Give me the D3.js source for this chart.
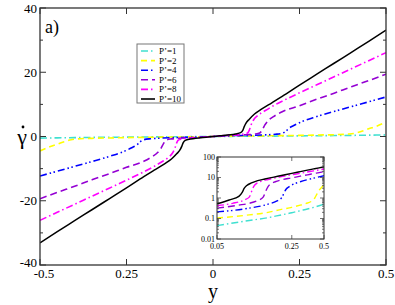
<!DOCTYPE html>
<html><head><meta charset="utf-8">
<script src="https://cdn.jsdelivr.net/npm/d3@7"></script>
<style>body{margin:0;background:#fff}svg{display:block}text{font-family:"Liberation Serif","DejaVu Serif",serif;fill:#000}</style>
</head><body><svg id="c" width="395" height="305"></svg>
<script>
// Positive half of each curve [y, gamma-dot]; the curves are antisymmetric in y.
const P1  = [[0,0],[0.05,0.045],[0.1,0.08],[0.15,0.11],[0.2,0.15],[0.25,0.19],[0.3,0.24],[0.35,0.29],[0.4,0.35],[0.45,0.42],[0.5,0.5]];
const P2  = [[0,0],[0.05,0.105],[0.1,0.15],[0.15,0.2],[0.2,0.28],[0.25,0.35],[0.3,0.45],[0.35,0.57],[0.39,0.75],[0.41,1.0],[0.43,1.6],[0.45,2.4],[0.47,3.1],[0.5,4.5]];
const P4  = [[0,0],[0.05,0.21],[0.1,0.32],[0.15,0.5],[0.18,0.7],[0.2,1.0],[0.21,1.6],[0.22,2.6],[0.235,3.5],[0.25,4.3],[0.3,6.2],[0.35,7.8],[0.4,9.3],[0.45,10.8],[0.5,12.3]];
const P6  = [[0,0],[0.05,0.32],[0.08,0.45],[0.1,0.55],[0.12,0.75],[0.135,1.1],[0.143,2.2],[0.15,3.6],[0.16,5.0],[0.175,6.2],[0.2,7.7],[0.25,9.6],[0.3,11.6],[0.35,13.5],[0.4,15.5],[0.45,17.4],[0.5,19.4]];
const P8  = [[0,0],[0.05,0.42],[0.07,0.55],[0.09,0.8],[0.1,1.1],[0.105,2.0],[0.11,3.6],[0.118,5.3],[0.13,6.6],[0.15,8.0],[0.17,9.3],[0.2,11.0],[0.25,13.6],[0.3,16.1],[0.35,18.6],[0.4,21.1],[0.45,23.6],[0.5,26.1]];
const P10 = [[0,0],[0.02,0.2],[0.05,0.52],[0.065,0.8],[0.08,1.2],[0.086,1.9],[0.09,3.0],[0.095,4.1],[0.105,5.4],[0.12,7.0],[0.14,8.5],[0.17,10.5],[0.2,12.5],[0.25,16.0],[0.3,19.4],[0.35,22.8],[0.4,26.2],[0.45,29.6],[0.5,33.1]];
const seriesLabels = ["P\u2019=1","P\u2019=2","P\u2019=4","P\u2019=6","P\u2019=8","P\u2019=10"];
const seriesColors = ["#40e0d0","#ffff00","#0000ff","#9400d3","#ff00ff","#000000"];
const seriesDash = ["7,3,1.5,3","6,4","7,3,1.5,2.5,1.5,3","7,4","7,3,1.5,3",null];
const seriesData = [P1,P2,P4,P6,P8,P10];
const xTicks = [-0.5,-0.25,0,0.25,0.5];
const xTickLabels = ["-0.5","0.25","0","0.25","0.5"];
const yTicks = [-40,-20,0,20,40];
const yMinor = [-30,-10,10,30];
const insetXTicks = [0.05,0.25,0.5];
const insetXLabels = ["0.05","0.25","0.5"];
const insetYTicks = [0.01,0.1,1,10,100];
const insetYLabels = ["0.01","0.1","1","10","100"];

const svg = d3.select("#c");
const L=40,R=386,T=8,B=265;
const x = d3.scaleLinear().domain([-0.5,0.5]).range([L,R]);
const y = d3.scaleLinear().domain([-40,40]).range([B,T]);
const axisCol="#333";

svg.append("clipPath").attr("id","mc").append("rect").attr("x",L).attr("y",T).attr("width",R-L).attr("height",B-T);

const full = d => d.slice(1).map(([a,b])=>[-a,-b]).reverse().concat(d);
const line = d3.line().x(d=>x(d[0])).y(d=>y(d[1])).curve(d3.curveMonotoneX);
const gL = svg.append("g").attr("clip-path","url(#mc)");
seriesData.forEach((d,i)=>{
  gL.append("path").attr("d",line(full(d))).attr("fill","none")
    .attr("stroke",seriesColors[i]).attr("stroke-width",i===5?1.5:1.6)
    .attr("stroke-dasharray",seriesDash[i]);
});

// frame & ticks
svg.append("rect").attr("x",L).attr("y",T).attr("width",R-L).attr("height",B-T)
  .attr("fill","none").attr("stroke",axisCol).attr("stroke-width",1.3);
const tk = svg.append("g").attr("stroke",axisCol).attr("stroke-width",1);
xTicks.forEach(v=>{
  tk.append("line").attr("x1",x(v)).attr("x2",x(v)).attr("y1",B).attr("y2",B-6);
  tk.append("line").attr("x1",x(v)).attr("x2",x(v)).attr("y1",T).attr("y2",T+6);
});
yTicks.forEach(v=>{
  tk.append("line").attr("x1",L).attr("x2",L+6).attr("y1",y(v)).attr("y2",y(v));
  tk.append("line").attr("x1",R).attr("x2",R-6).attr("y1",y(v)).attr("y2",y(v));
});
yMinor.forEach(v=>{
  tk.append("line").attr("x1",L).attr("x2",L+3).attr("y1",y(v)).attr("y2",y(v));
  tk.append("line").attr("x1",R).attr("x2",R-3).attr("y1",y(v)).attr("y2",y(v));
});
xTicks.forEach((v,i)=>svg.append("text").attr("x",x(v)+(i===0?4:0)).attr("y",B+12.5).attr("text-anchor","middle")
  .attr("font-size",13).text(xTickLabels[i]));
yTicks.forEach(v=>svg.append("text").attr("x",L-3).attr("y",y(v)+(v===-40?2:4.5)).attr("text-anchor","end")
  .attr("font-size",13).text(v));
svg.append("text").attr("x",22).attr("y",144).attr("text-anchor","middle").attr("font-size",22).text("\u03B3");
svg.append("circle").attr("cx",23).attr("cy",127).attr("r",1.4).attr("fill","#000");
svg.append("text").attr("x",x(0)).attr("y",298).attr("text-anchor","middle").attr("font-size",20).text("y");
svg.append("text").attr("x",45).attr("y",33).attr("font-size",18).text("a)");

// legend
const lg = svg.append("g");
lg.append("rect").attr("x",137).attr("y",44).attr("width",47).attr("height",59)
  .attr("fill","#fff").attr("stroke","#777").attr("stroke-width",1);
seriesLabels.forEach((s,i)=>{
  const yy = 51 + i*9.6;
  lg.append("line").attr("x1",141).attr("x2",155).attr("y1",yy).attr("y2",yy)
    .attr("stroke",seriesColors[i]).attr("stroke-width",1.6).attr("stroke-dasharray",seriesDash[i]);
  lg.append("text").attr("x",159).attr("y",yy+3).attr("font-size",9).text(s);
});

// inset
const iL=217,iR=324,iT=157,iB=239;
const ix = d3.scaleLog().domain([0.05,0.5]).range([iL,iR]);
const iy = d3.scaleLog().domain([0.01,100]).range([iB,iT]);
svg.append("rect").attr("x",iL).attr("y",iT).attr("width",iR-iL).attr("height",iB-iT).attr("fill","#fff");
svg.append("clipPath").attr("id","ic").append("rect").attr("x",iL).attr("y",iT).attr("width",iR-iL).attr("height",iB-iT);
const iline = d3.line().x(d=>ix(d[0])).y(d=>iy(d[1])).curve(d3.curveMonotoneX);
const gi = svg.append("g").attr("clip-path","url(#ic)");
seriesData.forEach((d,i)=>{
  gi.append("path").attr("d",iline(d.filter(p=>p[0]>=0.05))).attr("fill","none")
    .attr("stroke",seriesColors[i]).attr("stroke-width",1.4).attr("stroke-dasharray",seriesDash[i]);
});
svg.append("rect").attr("x",iL).attr("y",iT).attr("width",iR-iL).attr("height",iB-iT)
  .attr("fill","none").attr("stroke",axisCol).attr("stroke-width",1);
const itk = svg.append("g").attr("stroke",axisCol).attr("stroke-width",0.7);
iy.ticks().forEach(v=>{
  const major = insetYTicks.some(t=>Math.abs(t-v)/t<1e-6);
  const len = major?4:2;
  itk.append("line").attr("x1",iL).attr("x2",iL+len).attr("y1",iy(v)).attr("y2",iy(v));
  itk.append("line").attr("x1",iR).attr("x2",iR-len).attr("y1",iy(v)).attr("y2",iy(v));
});
insetXTicks.forEach(v=>{
  itk.append("line").attr("x1",ix(v)).attr("x2",ix(v)).attr("y1",iB).attr("y2",iB-4);
  itk.append("line").attr("x1",ix(v)).attr("x2",ix(v)).attr("y1",iT).attr("y2",iT+4);
});
insetYTicks.forEach((v,i)=>svg.append("text").attr("x",iL-2).attr("y",iy(v)+2.5).attr("text-anchor","end")
  .attr("font-size",8).text(insetYLabels[i]));
insetXTicks.forEach((v,i)=>svg.append("text").attr("x",ix(v)).attr("y",iB+9.5).attr("text-anchor","middle")
  .attr("font-size",8).text(insetXLabels[i]));
</script></body></html>
